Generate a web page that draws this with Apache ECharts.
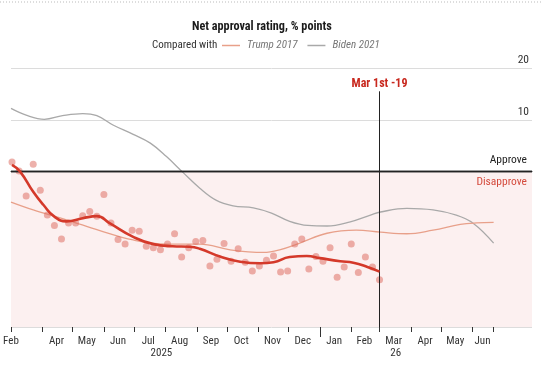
<!DOCTYPE html>
<html>
<head>
<meta charset="utf-8">
<script src="https://cdn.jsdelivr.net/npm/echarts@6/dist/echarts.min.js"></script>
<style>
html,body{margin:0;padding:0;background:#fff;}
#chart{width:541px;height:365px;}
</style>
</head>
<body>
<div id="chart"></div>
<script>
// ---- Data ----
const dotDates = ['2025-03-02','2025-03-09','2025-03-16','2025-03-23','2025-03-30','2025-04-06','2025-04-13','2025-04-20','2025-04-27','2025-05-04','2025-05-11','2025-05-18','2025-05-25','2025-06-01','2025-06-08','2025-06-15','2025-06-22','2025-06-29','2025-07-06','2025-07-13','2025-07-20','2025-07-27','2025-08-03','2025-08-10','2025-08-17','2025-08-24','2025-08-31','2025-09-07','2025-09-14','2025-09-21','2025-09-28','2025-10-05','2025-10-12','2025-10-19','2025-10-26','2025-11-02','2025-11-09','2025-11-16','2025-11-23','2025-11-30','2025-12-07','2025-12-14','2025-12-21','2025-12-28','2026-01-04','2026-01-11','2026-01-18','2026-01-25','2026-02-01','2026-02-08','2026-02-15','2026-02-22','2026-03-01'];
const dotValues = [1.85,0.1,-4.7,1.4,-3.6,-8.4,-10.4,-13.0,-9.9,-9.9,-8.5,-7.7,-8.6,-4.4,-9.9,-13.1,-14.0,-11.3,-11.5,-14.4,-14.7,-15.1,-14.0,-12.0,-16.5,-14.7,-13.5,-13.3,-18.2,-16.9,-13.9,-17.3,-14.9,-17.5,-19.2,-18.2,-17.1,-16.3,-19.4,-19.2,-14.0,-13.0,-18.8,-16.4,-17.3,-14.7,-20.4,-18.4,-14.0,-19.5,-16.5,-18.4,-20.9];

const trendDates = ['2025-03-02','2025-03-10','2025-03-23','2025-04-02','2025-04-13','2025-04-25','2025-05-11','2025-05-25','2025-06-07','2025-06-30','2025-07-20','2025-08-08','2025-08-25','2025-09-04','2025-09-24','2025-10-14','2025-11-03','2025-11-16','2025-12-02','2025-12-19','2026-01-01','2026-01-21','2026-02-03','2026-02-17','2026-03-01'];
const trendValues = [1.3,0.0,-3.9,-6.4,-8.7,-9.6,-9.0,-8.6,-10.0,-12.6,-14.0,-14.4,-14.5,-14.9,-16.4,-17.4,-17.7,-17.5,-16.5,-16.3,-16.7,-17.3,-17.6,-18.4,-19.3];

const trumpDates = ['2025-03-01','2025-03-23','2025-04-25','2025-05-28','2025-06-30','2025-08-02','2025-09-04','2025-10-04','2025-11-06','2025-11-22','2025-12-12','2026-01-08','2026-02-06','2026-03-02','2026-03-28','2026-04-23','2026-05-20','2026-06-05','2026-06-22'];
const trumpValues = [-5.9,-7.4,-9.3,-11.4,-13.2,-14.0,-14.0,-15.1,-15.6,-15.1,-13.8,-11.9,-11.3,-11.7,-12.0,-11.3,-10.2,-9.9,-9.8];

const bidenDates = ['2025-03-01','2025-03-16','2025-04-03','2025-04-21','2025-05-11','2025-05-25','2025-06-10','2025-06-30','2025-07-17','2025-08-02','2025-08-18','2025-09-04','2025-09-20','2025-10-07','2025-10-27','2025-11-14','2025-12-02','2025-12-20','2026-01-08','2026-01-31','2026-02-20','2026-03-02','2026-03-28','2026-04-23','2026-05-16','2026-06-02','2026-06-22'];
const bidenValues = [12.2,10.9,10.1,10.8,11.2,10.8,9.0,7.2,5.5,2.9,-0.1,-3.2,-5.5,-6.6,-7.0,-8.0,-9.6,-10.4,-10.5,-9.7,-8.4,-7.8,-7.1,-7.4,-8.4,-10.0,-13.8];

const monthTickDates = ['2025-03-01','2025-04-01','2025-05-01','2025-06-01','2025-07-01','2025-08-01','2025-09-01','2025-10-01','2025-11-01','2025-12-01','2026-01-01','2026-02-01','2026-03-01','2026-04-01','2026-05-01','2026-06-01','2026-06-22'];
const monthLabelDates = ['2025-03-01','2025-04-15','2025-05-15','2025-06-15','2025-07-15','2025-08-15','2025-09-15','2025-10-15','2025-11-15','2025-12-15','2026-01-15','2026-02-14','2026-03-15','2026-04-15','2026-05-15','2026-06-11'];
const monthLabels = ['Feb','Apr','May','Jun','Jul','Aug','Sep','Oct','Nov','Dec','Jan','Feb','Mar','Apr','May','Jun'];
const yearTickDate = '2026-01-01';
const yearLabelDates = ['2025-07-28','2026-03-17'];
const yearLabels = ['2025','26'];
const markerDate = '2026-03-01';
const markerText = 'Mar 1st';
const axisStart = '2025-03-01';
const axisEnd = '2026-07-30';
const yMin = -30, yMax = 20, yStep = 10;

// ---- Helpers ----
function ts(s){ const p = s.split('-').map(Number); return Date.UTC(p[0], p[1]-1, p[2]); }
function pairs(d, v){ return d.map((x,i)=>[ts(x), v[i]]); }
const monthMap = {}; monthLabelDates.forEach((d,i)=>{ monthMap[ts(d)] = monthLabels[i]; });
const yearMap = {}; yearLabelDates.forEach((d,i)=>{ yearMap[ts(d)] = yearLabels[i]; });
const FONT = "'Roboto Condensed',Roboto,sans-serif";
const lastVal = Math.round(trendValues[trendValues.length-1]);
const topDots = {id:'topDots', type:'line', shape:{x1:0,y1:2,x2:541,y2:2}, style:{stroke:'#bbb', lineWidth:1, lineDash:[1,2]}};

const chart = echarts.init(document.getElementById('chart'), null, {renderer:'canvas'});
chart.setOption({
  animation:false,
  textStyle:{fontFamily:FONT},
  title:[
    {text:'Net approval rating, % points', left:192, top:21, padding:0,
     textStyle:{fontFamily:FONT, fontWeight:'bold', fontSize:12.2, color:'#1a1a1a'}},
    {text:'Compared with', left:152, top:40, padding:0,
     textStyle:{fontFamily:FONT, fontWeight:'normal', fontSize:11, color:'#333'}}
  ],
  legend:{
    left:222, top:40, padding:0, itemGap:10, itemWidth:18, itemHeight:1.5, icon:'rect',
    data:['Trump 2017','Biden 2021'],
    textStyle:{fontFamily:FONT, fontStyle:'italic', fontSize:11, color:'#777', padding:[0,0,0,2]}
  },
  graphic:[topDots],
  grid:{left:11, right:9, top:68, bottom:38, containLabel:false},
  xAxis:[
    {type:'value', min:ts(axisStart), max:ts(axisEnd),
     axisLine:{lineStyle:{color:'#333', width:1}},
     axisTick:{show:false},
     axisLabel:{customValues:monthLabelDates.map(ts), formatter:v=>monthMap[v]||'', color:'#333', fontSize:11, margin:9, fontFamily:FONT},
     splitLine:{show:false}},
    {type:'value', position:'bottom', offset:0, min:ts(axisStart), max:ts(axisEnd),
     axisLine:{show:false}, axisTick:{show:false},
     axisLabel:{customValues:yearLabelDates.map(ts), formatter:v=>yearMap[v]||'', color:'#333', fontSize:11, margin:21, fontFamily:FONT},
     splitLine:{show:false}},
    {type:'value', position:'bottom', offset:0, min:ts(axisStart), max:ts(axisEnd),
     axisLine:{show:false},
     axisTick:{show:true, customValues:monthTickDates.map(ts), length:5, lineStyle:{color:'#333'}},
     axisLabel:{show:true, customValues:[ts(axisStart)], formatter:()=>''},
     splitLine:{show:false}}
  ],
  yAxis:{type:'value', position:'right', min:yMin, max:yMax, interval:yStep,
    axisLine:{show:false}, axisTick:{show:false},
    axisLabel:{inside:true, margin:3, verticalAlign:'bottom', padding:[0,0,2,0], color:'#333', fontSize:11.5, fontFamily:FONT,
      formatter:v=> v===0 ? '' : String(v)},
    splitLine:{lineStyle:{color:'#dcdcdc', width:1}}},
  series:[
    {name:'Biden 2021', type:'line', smooth:0.4, symbol:'none', data:pairs(bidenDates,bidenValues),
     lineStyle:{color:'#a9a9a9', width:1.3}, itemStyle:{color:'#a9a9a9'}, z:2,
     markArea:{silent:true, itemStyle:{color:'#fcf0f0'}, data:[[{yAxis:0},{yAxis:yMin}]]},
     markLine:{silent:true, symbol:'none', lineStyle:{color:'#222', width:1.3, type:'solid'},
       data:[
         {yAxis:0, label:{show:true, position:'insideEndTop', formatter:'Approve', color:'#222', fontSize:11.5, fontFamily:FONT}},
         {yAxis:0, label:{show:true, position:'insideEndBottom', formatter:'Disapprove', color:'#d44a3c', fontSize:11.5, fontFamily:FONT}}
       ]}},
    {name:'Trump 2017', type:'line', smooth:0.4, symbol:'none', data:pairs(trumpDates,trumpValues),
     lineStyle:{color:'#e8a08a', width:1.3}, itemStyle:{color:'#e8a08a'}, z:3},
    {name:'Polls', type:'scatter', data:pairs(dotDates,dotValues), symbolSize:7,
     itemStyle:{color:'rgba(222,110,100,0.68)'}, z:4},
    {name:'Trend', type:'line', smooth:0.5, symbol:'none', data:pairs(trendDates,trendValues),
     lineStyle:{color:'#d4392a', width:2.6}, z:5,
     markLine:{silent:true, symbol:'none', lineStyle:{color:'#222', width:1, type:'solid'},
       label:{show:true, position:'end', formatter:markerText+' '+lastVal, color:'#c8281e', fontWeight:'bold', fontSize:12, fontFamily:FONT, distance:1},
       data:[[{coord:[ts(markerDate),yMin]},{coord:[ts(markerDate),15.5]}]]}}
  ]
});

// Longer year-boundary tick, positioned through the chart's own scales
const tx = chart.convertToPixel({xAxisIndex:0}, ts(yearTickDate));
const ty = chart.convertToPixel({yAxisIndex:0}, yMin);
if (isFinite(tx) && isFinite(ty)) {
  const px = Math.round(tx) + 0.5;
  chart.setOption({graphic:[
    topDots,
    {id:'yearTick', type:'line', z:100, shape:{x1:px, y1:ty, x2:px, y2:ty+10}, style:{stroke:'#333', lineWidth:1}}
  ]});
}
</script>
</body>
</html>
